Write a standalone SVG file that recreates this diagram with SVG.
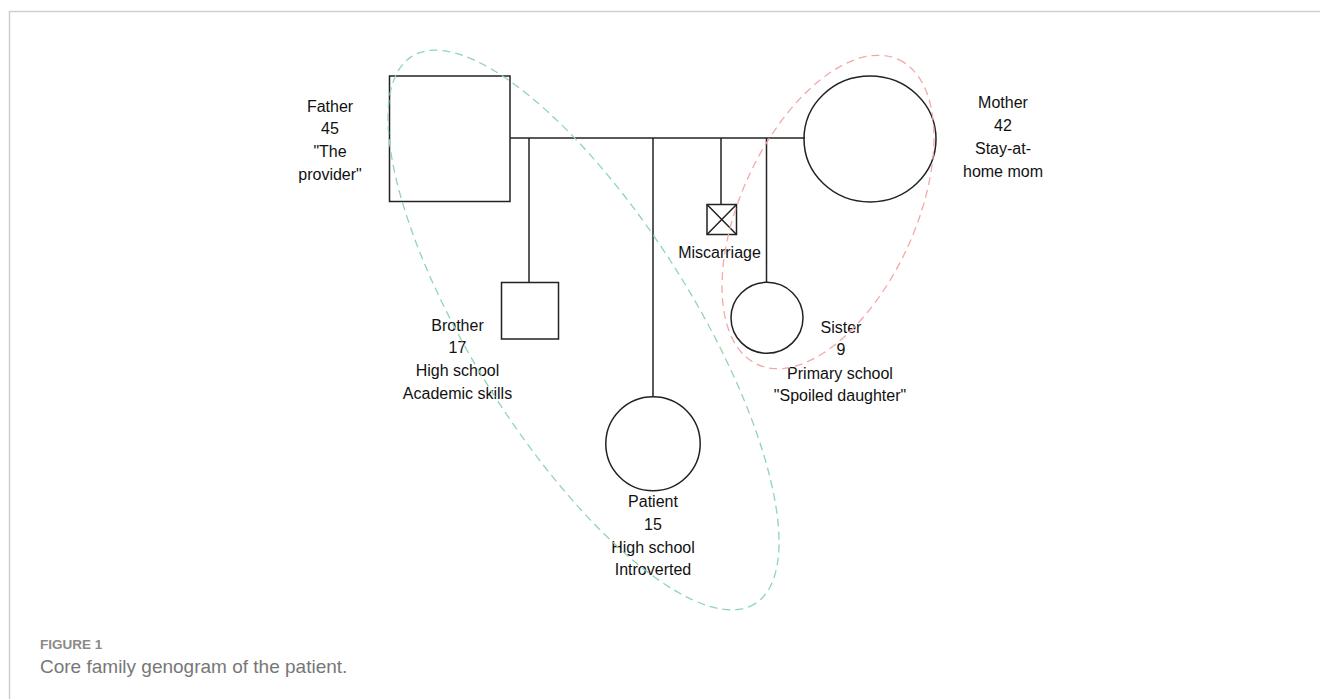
<svg xmlns="http://www.w3.org/2000/svg" width="1320" height="699" viewBox="0 0 1320 699">
<style>
.shape{fill:none;stroke:#222;stroke-width:1.5}
.ln{fill:none;stroke:#222;stroke-width:1.5}
.lbl{font-family:"Liberation Sans",Arial,sans-serif;font-size:16px;fill:#111;text-anchor:middle}
.grp-g{fill:none;stroke:#8fd6b2;stroke-width:1.3;stroke-dasharray:8 5}
.grp-p{fill:none;stroke:#f3a9a9;stroke-width:1.3;stroke-dasharray:8 5}
.cap1{font-family:"Liberation Sans",Arial,sans-serif;font-size:13.5px;font-weight:bold;fill:#8a8a8a}
.cap2{font-family:"Liberation Sans",Arial,sans-serif;font-size:19px;fill:#777}
</style>
<rect width="1320" height="699" fill="#fff"/>
<path d="M9.5,699 V11.5 H1320" fill="none" stroke="#cfcfcf" stroke-width="1.5"/>

<g id="connectors">
<line class="ln" x1="510" y1="138" x2="805" y2="138"/>
<line class="ln" x1="529" y1="138" x2="529" y2="282.5"/>
<line class="ln" x1="653" y1="138" x2="653" y2="397"/>
<line class="ln" x1="721" y1="138" x2="721" y2="204.5"/>
<line class="ln" x1="766.5" y1="138" x2="766.5" y2="282.5"/>
</g>

<g id="father">
<rect class="shape" x="389.5" y="76" width="120.5" height="125.5"/>
<text class="lbl" x="330" y="111.5">Father</text>
<text class="lbl" x="330" y="134">45</text>
<text class="lbl" x="330" y="157">"The</text>
<text class="lbl" x="330" y="179.5">provider"</text>
</g>

<g id="mother">
<ellipse class="shape" cx="870" cy="139" rx="66" ry="63"/>
<text class="lbl" x="1003" y="108">Mother</text>
<text class="lbl" x="1003" y="131">42</text>
<text class="lbl" x="1003" y="154">Stay-at-</text>
<text class="lbl" x="1003" y="176.5">home mom</text>
</g>

<g id="brother">
<rect class="shape" x="501.5" y="282.5" width="57" height="56.5"/>
<text class="lbl" x="457.5" y="330.5">Brother</text>
<text class="lbl" x="457.5" y="353">17</text>
<text class="lbl" x="457.5" y="376">High school</text>
<text class="lbl" x="457.5" y="398.5">Academic skills</text>
</g>

<g id="patient">
<ellipse class="shape" cx="653" cy="443.8" rx="47.2" ry="47"/>
<text class="lbl" x="653" y="506.5">Patient</text>
<text class="lbl" x="653" y="529.5">15</text>
<text class="lbl" x="653" y="552.5">High school</text>
<text class="lbl" x="653" y="575">Introverted</text>
</g>

<g id="miscarriage">
<rect class="shape" x="707" y="204.5" width="29.5" height="30"/>
<path class="ln" d="M707,204.5 L736.5,234.5 M736.5,204.5 L707,234.5" stroke-width="1.2"/>
<text class="lbl" x="719.5" y="258">Miscarriage</text>
</g>

<g id="sister">
<ellipse class="shape" cx="767" cy="317.8" rx="36" ry="35.5"/>
<text class="lbl" x="841" y="333">Sister</text>
<text class="lbl" x="841" y="355">9</text>
<text class="lbl" x="840" y="378.5">Primary school</text>
<text class="lbl" x="840" y="401">"Spoiled daughter"</text>
</g>

<g id="group-green">
<ellipse class="grp-g" cx="583.5" cy="330" rx="323" ry="110.5" transform="rotate(57.9 583.5 330)"/>
</g>
<g id="group-pink">
<ellipse class="grp-p" cx="828" cy="212" rx="168" ry="87" transform="rotate(-65.1 828 212)"/>
</g>

<g id="caption">
<text class="cap1" x="40" y="649.3">FIGURE 1</text>
<text class="cap2" x="40" y="673.3">Core family genogram of the patient.</text>
</g>
</svg>
